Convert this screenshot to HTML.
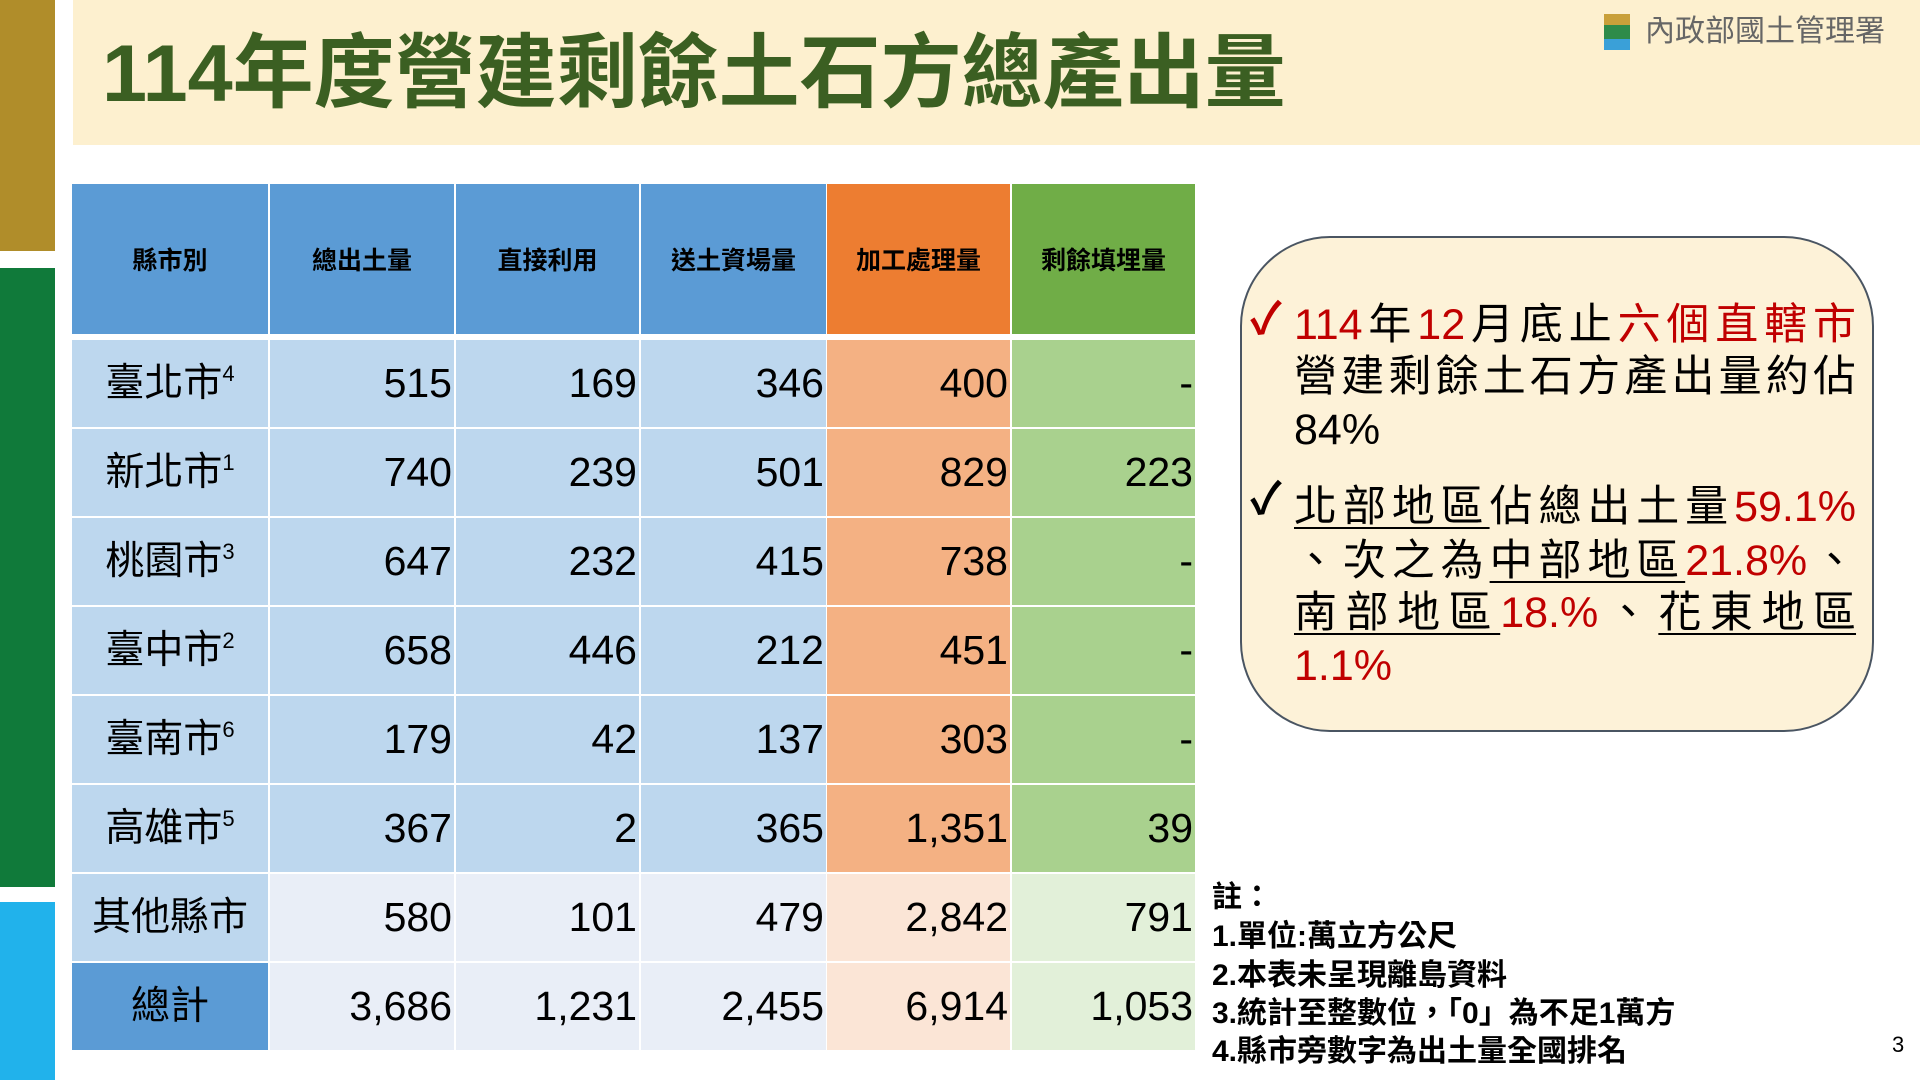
<!DOCTYPE html>
<html><head><meta charset="utf-8">
<style>
*{margin:0;padding:0;box-sizing:border-box}
body{width:1920px;height:1080px;position:relative;background:#fff;overflow:hidden;font-family:"Liberation Sans","Noto Sans CJK TC",sans-serif;color:#000}
.a{position:absolute}
.cell{position:absolute;display:flex;align-items:center;justify-content:flex-end;font-size:41px;padding-right:2px;line-height:1}
.hd{position:absolute;display:flex;align-items:center;justify-content:center;font-size:25px;font-weight:bold;top:184px;height:150px}
.nm{justify-content:center;padding:0}
sup{font-size:22px;vertical-align:top;position:relative;top:-10px}
.ln{position:absolute;left:1294px;width:562px;font-size:43px;line-height:52px;text-align:justify;text-align-last:justify;white-space:nowrap}
.r{color:#c00000}
.u{text-decoration:underline;text-underline-offset:6px;text-decoration-thickness:2px}
.note{position:absolute;left:1212px;font-size:30px;font-weight:bold;line-height:34px;white-space:nowrap}
.ck{position:absolute;font-size:44px;font-weight:bold;line-height:1}
</style></head><body>
<div class="a" style="left:0;top:0;width:55px;height:251px;background:#b08d2a"></div>
<div class="a" style="left:0;top:268px;width:55px;height:619px;background:#107a3a"></div>
<div class="a" style="left:0;top:902px;width:55px;height:178px;background:#21b2eb"></div>
<div class="a" style="left:73px;top:0;width:1847px;height:145px;background:#fdf0cf"></div>
<div class="a" style="left:102px;top:24px;font-size:81px;font-weight:bold;color:#3b5f22;line-height:100px;white-space:nowrap">114年度營建剩餘土石方總產出量</div>
<div class="a" style="left:1604px;top:14px;width:26px;height:36px;background:linear-gradient(#c9a03a 0 30%,#2e8b4a 30% 70%,#3aa0d8 70%)"></div>
<div class="a" style="left:1645px;top:14px;font-size:30px;color:#666;line-height:36px;white-space:nowrap">內政部國土管理署</div>

<div class="hd" style="left:72px;width:196px;background:#5b9bd5">縣市別</div>
<div class="hd" style="left:270px;width:184px;background:#5b9bd5">總出土量</div>
<div class="hd" style="left:456px;width:183px;background:#5b9bd5">直接利用</div>
<div class="hd" style="left:641px;width:185px;background:#5b9bd5">送土資場量</div>
<div class="hd" style="left:827px;width:183px;background:#ed7d31">加工處理量</div>
<div class="hd" style="left:1012px;width:183px;background:#70ad47">剩餘填埋量</div>

<div id="t"></div>
<script>
const rows=[
["臺北市<sup>4</sup>","515","169","346","400","-"],
["新北市<sup>1</sup>","740","239","501","829","223"],
["桃園市<sup>3</sup>","647","232","415","738","-"],
["臺中市<sup>2</sup>","658","446","212","451","-"],
["臺南市<sup>6</sup>","179","42","137","303","-"],
["高雄市<sup>5</sup>","367","2","365","1,351","39"],
["其他縣市","580","101","479","2,842","791"],
["總計","3,686","1,231","2,455","6,914","1,053"]];
const xs=[[72,196],[270,184],[456,183],[641,185],[827,183],[1012,183]];
let h='';
rows.forEach((r,i)=>{
 const y=340+i*89;
 const light=i>=6;
 const cols=[i==7?'#5b9bd5':'#bdd7ee',light?'#e9eef7':'#bdd7ee',light?'#e9eef7':'#bdd7ee',light?'#e9eef7':'#bdd7ee',light?'#fbe5d6':'#f4b183',light?'#e2f0d9':'#a9d18e'];
 r.forEach((v,j)=>{
  h+=`<div class="cell${j==0?' nm':''}" style="left:${xs[j][0]}px;top:${y}px;width:${xs[j][1]}px;height:87px;background:${cols[j]};${j==0?'font-size:39px;':''}">${v}</div>`;
 });
});
document.getElementById('t').outerHTML=h;
</script>

<div class="a" style="left:1240px;top:236px;width:634px;height:496px;background:#fdf2d8;border:2px solid #4a5562;border-radius:90px"></div>
<div class="ck r" style="left:1250px;top:298px">✓</div>
<div class="ck" style="left:1250px;top:478px">✓</div>
<div class="ln" style="top:299px"><span class="r">114</span>年<span class="r">12</span>月底止<span class="r">六個直轄市</span></div>
<div class="ln" style="top:351px">營建剩餘土石方產出量約佔</div>
<div class="ln" style="top:404px;text-align-last:left">84%</div>
<div class="ln" style="top:481px"><span class="u">北部地區</span>佔總出土量<span class="r">59.1%</span></div>
<div class="ln" style="top:535px">、次之為<span class="u">中部地區</span><span class="r">21.8%</span>、</div>
<div class="ln" style="top:587px"><span class="u">南部地區</span><span class="r">18.%</span>、<span class="u">花東地區</span></div>
<div class="ln r" style="top:640px;text-align-last:left">1.1%</div>

<div class="note" style="top:881px">註：</div>
<div class="note" style="top:920px">1.單位:萬立方公尺</div>
<div class="note" style="top:959px">2.本表未呈現離島資料</div>
<div class="note" style="top:997px">3.統計至整數位，「0」為不足1萬方</div>
<div class="note" style="top:1035px">4.縣市旁數字為出土量全國排名</div>
<div class="a" style="left:1892px;top:1032px;font-size:22px">3</div>
</body></html>
